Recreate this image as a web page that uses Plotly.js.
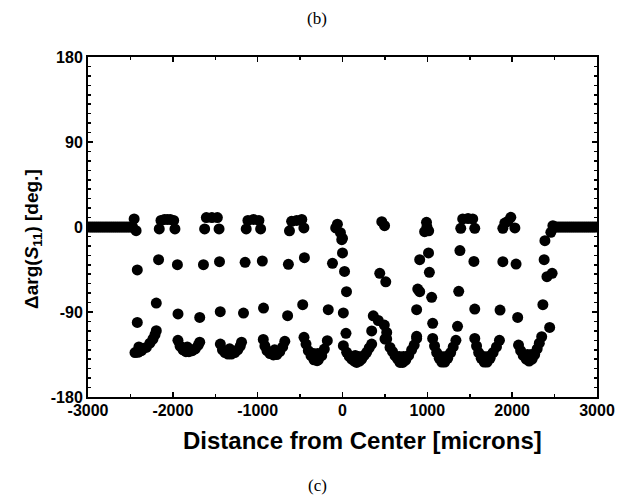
<!DOCTYPE html>
<html>
<head>
<meta charset="utf-8">
<script src="https://cdn.plot.ly/plotly-3.0.1.min.js"></script>
<style>
html,body{margin:0;padding:0;background:#fff;}
#chart{width:623px;height:496px;}
</style>
</head>
<body>
<div id="chart"></div>
<script>
// Flat (off-sample) region, microns / degrees
const edgeX = [-3000,-2975,-2950,-2925,-2900,-2875,-2850,-2825,-2800,-2775,-2750,-2725,-2700,-2675,-2650,-2625,-2600,-2575,-2550,-2525,-2500,-2475,-2456,-2433,
  2456,2480,2500,2525,2550,2575,2600,2625,2650,2675,2700,2725,2750,2775,2800,2825,2850,2875,2900,2925,2950,2975,3000];
const edgeY = [0,0,0,0,0,0,0,0,0,0,0,0,0,0,0,0,0,0,0,0,0,0,8.5,-3.9,
  -5.6,1.4,0,0,0,0,0,0,0,0,0,0,0,0,0,0,0,0,0,0,0,0,0];

// Band near 0 deg
const topX = [-2160,-2140,-2100,-2065,-2030,-1990,-1975,
  -1625,-1605,-1540,-1475,-1455,
  -1135,-1115,-1050,-985,-965,
  -625,-600,-540,-480,-455,
  -80,-60,-24,0,
  463,496,
  968,990,995,1016,
  1394,1417,1480,1535,1559,
  1890,1913,1950,1984,2032];
const topY = [-2,7,8,8,8,7,-2,
  -2,10,10,10,-2,
  -2,7,8,7,-2,
  -4,6,7,8,-1,
  -1,3,-6,-12,
  5.6,1.4,
  -5,5,0,-4,
  -1.4,8.5,9,8.5,-1.4,
  -1.4,4.2,6,10.2,-1];

// Band around -40 deg
const upperX = [-2419,-2168,-1946,-1639,-1450,-1148,-945,-638,-449,-118,0,24,-9,47,439,510,910,1014,1024,887,910,1051,1384,1370,1549,1890,2046,2386,2377,2410,2471,2362];
const upperY = [-45.5,-34.6,-39.9,-39.9,-36.7,-37.4,-36,-39.5,-32.5,-38.5,-27.5,-47,-13.4,-68.5,-49,-58,-34.6,-27.5,-48,-65.7,-68.5,-74.5,-25,-68.1,-36.4,-36.7,-39.2,-14.5,-34.6,-52.6,-49.1,-82.3];

// Band around -90 deg
const lowerX = [-2195,-2419,-1939,-1683,-1441,-1167,-931,-647,-469,-168,10,41,363,344,422,493,521,501,874,874,1063,1356,1559,1857,2065,2442,2348];
const lowerY = [-80.5,-101,-92,-95.7,-89.7,-91.1,-85.8,-93.9,-82.3,-87.6,-91,-112.6,-94,-110,-99,-103.8,-111.6,-118.6,-87.6,-115.8,-102,-105.2,-86.9,-87.9,-95.7,-106.3,-116.2];

// Bottom band (U / V shaped dips)
const bottomX = [-2446,-2411,-2370,-2313,-2270,-2234,-2210,-2195,-2400,
  -1940,-1915,-1880,-1845,-1810,-1770,-1735,-1700,-1683,-1830,
  -1440,-1415,-1385,-1350,-1310,-1270,-1235,-1205,-1190,-1330,
  -934,-915,-890,-855,-815,-775,-740,-705,-680,-800,
  -454,-430,-403,-371,-336,-300,-285,-245,-214,-179,-340,-290,
  10,49,80,108,140,167,200,226,255,285,315,344,150,190,
  521,560,590,619,650,678,710,745,780,815,845,874,670,720,
  1063,1085,1110,1140,1170,1205,1240,1275,1305,1337,1165,1215,
  1559,1580,1605,1635,1670,1705,1740,1775,1815,1850,1665,1715,
  2075,2100,2130,2165,2200,2235,2265,2295,2320,2180,2225];
const bottomY = [-133,-132.7,-131,-127.5,-123,-118.6,-114,-109.8,-127,
  -120,-126,-130,-132,-132,-131,-129,-125,-122,-127,
  -124,-130,-133,-134.5,-134.5,-133,-130,-126,-122,-129,
  -119,-126,-131,-134,-135.5,-135,-132,-127,-121,-130,
  -116.8,-123.9,-131,-136.3,-140.6,-141.5,-140.6,-136.3,-129.2,-120.4,-134,-134,
  -125.7,-132.7,-137,-139.8,-142,-143.4,-142,-139.8,-136,-132.7,-128,-124,-136,-137,
  -118.6,-127.5,-132,-136.3,-140,-143.4,-143.4,-141,-136,-130,-125,-118,-137,-137,
  -118,-126,-133,-139,-143,-143,-139,-133,-127,-120,-137,-137,
  -118,-126,-133,-139,-143,-143,-139,-133,-127,-120,-137,-137,
  -125,-131,-136,-140,-142,-140,-135,-129,-123,-135,-135];

const xTicks = [-3000,-2000,-1000,0,1000,2000,3000];
const yTicks = [-180,-90,0,90,180];

const marker = {color:'#000', size:11, line:{width:0}};
function tr(x,y){ return {x:x, y:y, type:'scatter', mode:'markers', marker:marker, hoverinfo:'skip', showlegend:false}; }
const data = [tr(edgeX,edgeY), tr(topX,topY), tr(upperX,upperY), tr(lowerX,lowerY), tr(bottomX,bottomY)];

const tickFont = {family:'Liberation Sans, Arial, sans-serif', size:16, color:'#000', weight:'bold'};
const layout = {
  width:623, height:496,
  margin:{l:88, r:26, t:57, b:99},
  paper_bgcolor:'#fff', plot_bgcolor:'#fff',
  font:{family:'Liberation Sans, Arial, sans-serif', color:'#000'},
  xaxis:{
    range:[-3000,3000], tickvals:xTicks, ticktext:xTicks.map(String),
    showgrid:false, zeroline:false, showline:true, linecolor:'#000', linewidth:2, mirror:'ticks',
    ticks:'inside', ticklen:5, tickwidth:1.5, tickcolor:'#000', ticklabelstandoff:-2,
    minor:{dtick:500, tick0:0, ticks:'inside', ticklen:3, tickcolor:'#000', showgrid:false},
    tickfont:tickFont
  },
  yaxis:{
    range:[-180,180], tickvals:yTicks, ticktext:yTicks.map(String),
    showgrid:false, zeroline:false, showline:true, linecolor:'#000', linewidth:2, mirror:'ticks',
    ticks:'inside', ticklen:5, tickwidth:1.5, tickcolor:'#000',
    minor:{dtick:10, tick0:0, ticks:'inside', ticklen:3, tickcolor:'#000', showgrid:false},
    tickfont:tickFont
  },
  annotations:[
    {text:'<b>Distance from Center [microns]</b>', xref:'paper', yref:'paper', x:0.54, y:-0.1265, xanchor:'center', yanchor:'middle', showarrow:false,
     font:{family:'Liberation Sans, Arial, sans-serif', size:24, color:'#000'}},
    {text:'<b>Δarg(<i>S</i><sub>11</sub>) [deg.]</b>', xref:'paper', yref:'paper', x:-0.108, y:0.465, xanchor:'center', yanchor:'middle', textangle:-90, showarrow:false,
     font:{family:'Liberation Sans, Arial, sans-serif', size:19, color:'#000'}},
    {text:'(b)', xref:'paper', yref:'paper', x:0.45, y:1, xanchor:'center', yanchor:'middle', yshift:39, showarrow:false, font:{family:'Liberation Serif, Times New Roman, serif', size:17, color:'#000'}},
    {text:'(c)', xref:'paper', yref:'paper', x:0.45, y:0, xanchor:'center', yanchor:'middle', yshift:-88, showarrow:false, font:{family:'Liberation Serif, Times New Roman, serif', size:17, color:'#000'}}
  ]
};
Plotly.newPlot('chart', data, layout, {staticPlot:true, displayModeBar:false});
</script>
</body>
</html>
